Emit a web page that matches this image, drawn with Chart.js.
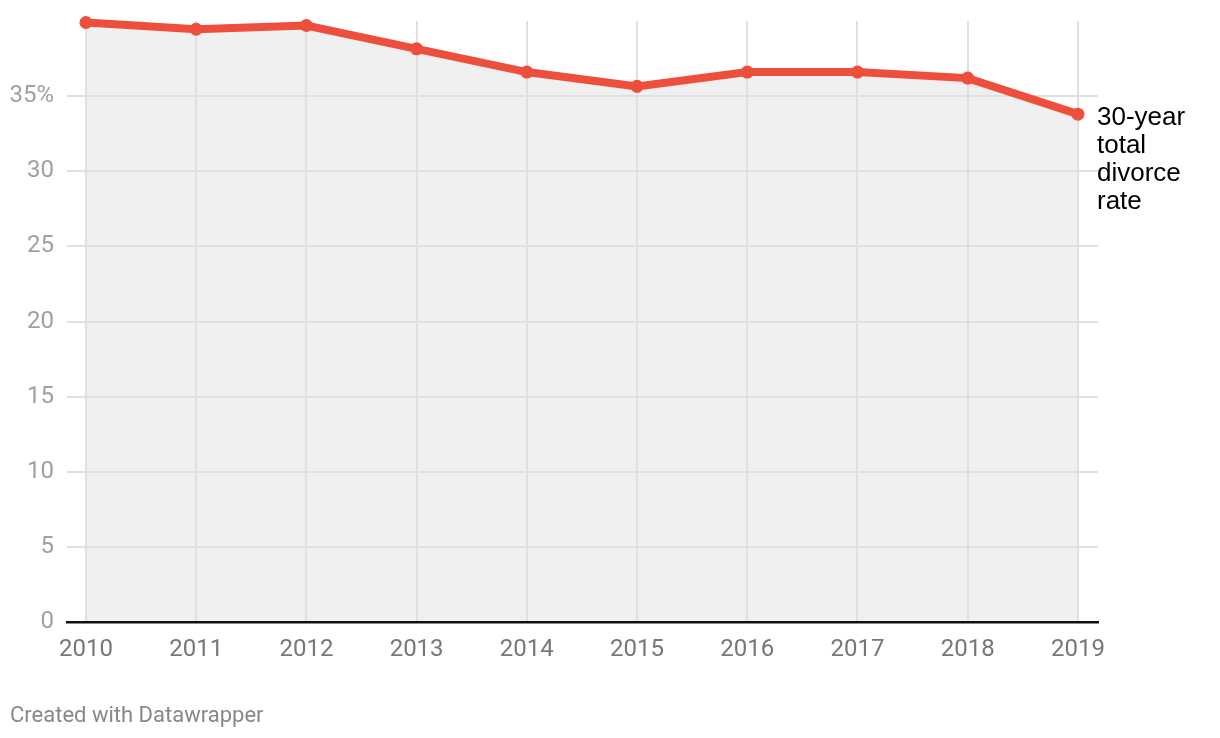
<!DOCTYPE html>
<html>
<head>
<meta charset="utf-8">
<script src="https://cdn.jsdelivr.net/npm/chart.js@4"></script>
<style>
html,body{margin:0;padding:0;background:#fff;}
#wrap{width:1220px;height:738px;position:relative;}
</style>
</head>
<body>
<div id="wrap"><canvas id="c" width="1220" height="738"></canvas></div>
<script>
const years = [2010, 2011, 2012, 2013, 2014, 2015, 2016, 2017, 2018, 2019];
const divorceRate = [39.9, 39.45, 39.7, 38.15, 36.6, 35.65, 36.6, 36.6, 36.2, 33.8];
const yTicks = [0, 5, 10, 15, 20, 25, 30, 35];
const seriesLabel = ['30-year', 'total', 'divorce', 'rate'];
const footerText = 'Created with Datawrapper';

const textPlugin = {
  id: 'texts',
  afterDraw(chart) {
    const ctx = chart.ctx;
    const meta = chart.getDatasetMeta(0);
    const last = meta.data[meta.data.length - 1];
    ctx.save();
    ctx.fillStyle = '#000';
    ctx.font = '26px "Liberation Sans", Arial, sans-serif';
    ctx.textBaseline = 'middle';
    ctx.textAlign = 'left';
    seriesLabel.forEach((t, i) => ctx.fillText(t, 1097, last.y + 4 + i * 28));
    ctx.fillStyle = '#888';
    ctx.font = '22px Roboto, sans-serif';
    ctx.fillText(footerText, 10, 716);
    ctx.restore();
  }
};

new Chart(document.getElementById('c'), {
  type: 'line',
  data: {
    datasets: [{
      data: years.map((y, i) => ({x: y, y: divorceRate[i]})),
      borderColor: '#ee4e3c',
      backgroundColor: '#f0f0f0',
      fill: 'origin',
      borderWidth: 8,
      pointRadius: 6.5,
      pointBackgroundColor: '#ee4e3c',
      pointBorderWidth: 0,
      tension: 0,
      clip: false
    }]
  },
  options: {
    responsive: false,
    animation: false,
    layout: {padding: {top: 21, right: 122, left: 0, bottom: 0}},
    plugins: {legend: {display: false}, tooltip: {enabled: false}, filler: {drawTime: 'beforeDraw'}},
    scales: {
      x: {
        type: 'linear',
        min: 2009.828,
        max: 2019.182,
        afterBuildTicks(scale) { scale.ticks = years.map(v => ({value: v})); },
        afterFit(scale) { scale.height = 116; scale.paddingLeft = 0; scale.paddingRight = 0; },
        ticks: {
          color: '#777',
          font: {family: 'Roboto', size: 24},
          padding: 14,
          maxRotation: 0,
          autoSkip: false,
          callback: v => String(v)
        },
        grid: {color: '#e0e0e0', lineWidth: 2, drawTicks: false},
        border: {display: true, color: '#111', width: 2.5}
      },
      y: {
        min: 0,
        max: 40,
        afterBuildTicks(scale) { scale.ticks = yTicks.map(v => ({value: v})); },
        afterFit(scale) { scale.width = 67; scale.paddingTop = 0; scale.paddingBottom = 0; },
        ticks: {
          color: '#a0a0a0',
          font: {family: 'Roboto', size: 24},
          padding: 13,
          callback: v => v === 35 ? '35%' : String(v)
        },
        grid: {color: '#e0e0e0', lineWidth: 2, drawTicks: false},
        border: {display: false}
      }
    }
  },
  plugins: [textPlugin]
});
</script>
</body>
</html>
